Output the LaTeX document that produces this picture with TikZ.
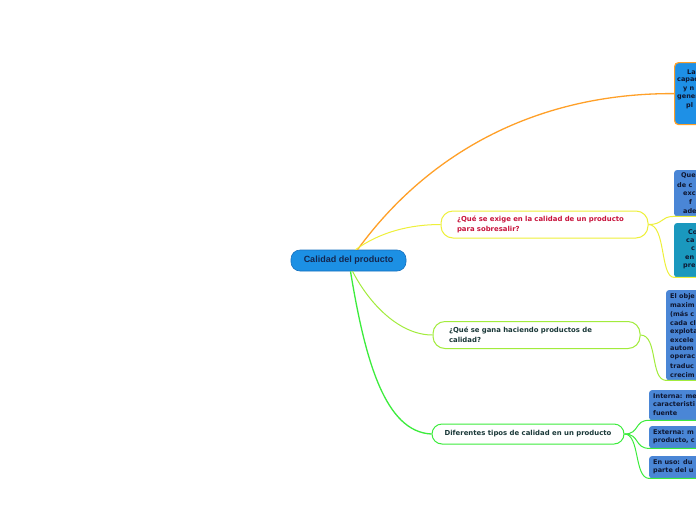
\documentclass[tikz,border=0pt]{standalone}
\usepackage{fontspec}
\setmainfont{DejaVu Sans}
\newfontfamily\arialfont{Liberation Sans}
\usetikzlibrary{calc}
\definecolor{corange}{HTML}{FFA028}
\definecolor{cyellow}{HTML}{EEF03A}
\definecolor{clgreen}{HTML}{A2EC3C}
\definecolor{cgreen}{HTML}{3CEC3C}
\definecolor{cblue}{HTML}{1C90E4}
\definecolor{cblueb}{HTML}{1670BE}
\definecolor{cctext}{HTML}{14264E}
\definecolor{cleafa}{HTML}{1E90E6}
\definecolor{cleafb}{HTML}{4A86D6}
\definecolor{cleafc}{HTML}{1A98BE}
\definecolor{cred}{HTML}{C8143C}
\definecolor{cdark}{HTML}{1A3838}
\definecolor{cleaftext}{HTML}{0E1630}
\begin{document}
\begin{tikzpicture}[x=1pt,y=-1pt,
  branch/.style={draw, line width=1pt, fill=white, rounded corners=12pt, minimum height=27pt, inner sep=0pt, font=\fontsize{6.9}{9.5}\selectfont\bfseries},
  leaf/.style={rectangle, minimum width=60pt, inner sep=0pt, anchor=north west, rounded corners=2.5pt},
  ltext/.style={anchor=west, inner sep=0pt, font=\fontsize{6.5}{8}\selectfont\bfseries, text=cleaftext},
  conn/.style={line width=1pt},
]
\useasboundingbox (0,0) rectangle (696,520);
\clip (0,0) rectangle (696,520);
\fill[white] (0,0) rectangle (696,520);

% central node
\node[fill=cblue, draw=cblueb, line width=0.6pt, rounded corners=9pt, minimum width=115pt, minimum height=21pt, inner sep=0pt, font=\arialfont\fontsize{9}{10}\selectfont\bfseries, text=cctext] (c) at (348.5,260.5) {Calidad del producto};

% branch nodes
\node[branch, draw=cyellow, text=cred, minimum width=207pt, text width=175pt, align=left] (n2) at (544.5,224.5) {¿Qué se exige en la calidad de un producto\\para sobresalir?};
\node[branch, draw=clgreen, text=cdark, minimum width=207pt, text width=175pt, align=left] (n3) at (536.5,335) {¿Qué se gana haciendo productos de\\calidad?};
\node[branch, draw=cgreen, text=cdark, minimum width=192pt, minimum height=20pt, rounded corners=10pt] (n4) at (528,434) {Diferentes tipos de calidad en un producto};

% leaf boxes
\node[leaf, fill=cleafa, draw=corange, line width=1.2pt, rounded corners=4pt, minimum height=62pt] (b1) at (674,62) {};
\node[leaf, fill=cleafb, minimum height=46pt] (b2) at (674,170) {};
\node[leaf, fill=cleafc, minimum height=54pt] (b3) at (674,223) {};
\node[leaf, fill=cleafb, minimum height=90pt] (b4) at (666,290) {};
\node[leaf, fill=cleafb, minimum height=30pt] (b5) at (649,390) {};
\node[leaf, fill=cleafb, minimum height=22pt] (b6) at (649,426) {};
\node[leaf, fill=cleafb, minimum height=22pt] (b7) at (649,456) {};

% leaf texts (clipped by the picture edge, as in the reference)
\node[ltext] (t1a) at (687,72) {La};
\node[ltext] (t1b) at (677,80.5) {capac};
\node[ltext] (t1c) at (683,89) {y n};
\node[ltext] (t1d) at (677,97.5) {gener};
\node[ltext] (t1e) at (686,106) {pl};

\node[ltext] (t2a) at (681,176) {Que};
\node[ltext] (t2b) at (677,185) {de c};
\node[ltext] (t2c) at (683,193.5) {exc};
\node[ltext] (t2d) at (689,202) {f};
\node[ltext] (t2e) at (683,211) {ade};

\node[ltext] (t3a) at (688,232) {Co};
\node[ltext] (t3b) at (686,240.5) {ca};
\node[ltext] (t3c) at (691,249) {c};
\node[ltext] (t3d) at (685,257.5) {en};
\node[ltext] (t3e) at (683,266) {pre};

\node[ltext] (t4a) at (670,296.5) {El obje};
\node[ltext] (t4b) at (670,305.2) {maxim};
\node[ltext] (t4c) at (670,313.9) {(más c};
\node[ltext] (t4d) at (670,322.6) {cada cl};
\node[ltext] (t4e) at (670,331.3) {explota};
\node[ltext] (t4f) at (670,340) {excele};
\node[ltext] (t4g) at (670,348.7) {autom};
\node[ltext] (t4h) at (670,357.4) {operac};
\node[ltext] (t4i) at (670,366.1) {traduc};
\node[ltext] (t4j) at (670,374.8) {crecim};

\node[ltext] (t5a) at (653,396) {Interna: me};
\node[ltext] (t5b) at (653,404.5) {caracteristi};
\node[ltext] (t5c) at (653,413) {fuente};

\node[ltext] (t6a) at (653,432.5) {Externa: m};
\node[ltext] (t6b) at (653,441) {producto, c};

\node[ltext] (t7a) at (653,462.5) {En uso: du};
\node[ltext] (t7b) at (653,471) {parte del u};

% main connectors
\draw[conn, corange, line width=1.3pt] ($(c.north)+(9,0)$) .. controls (430,150) and (540,93) .. (b1.west);
\draw[conn, cyellow] ($(c.north)+(7,0)$) .. controls (380,232) and (410,224.5) .. (n2.west);
\draw[conn, clgreen] ($(c.south)+(4,0)$) .. controls (370,305) and (400,335) .. (n3.west);
\draw[conn, cgreen, line width=1.3pt] ($(c.south)+(2,0)$) .. controls (365,360) and (385,432) .. (n4.west);

% child connectors
\draw[conn, cyellow] (n2.east) .. controls (664,224.5) and (660,216.5) .. (b2.south west) -- (b2.south east);
\draw[conn, cyellow] (n2.east) .. controls (666,224.5) and (660,277) .. (b3.south west) -- (b3.south east);
\draw[conn, clgreen] (n3.east) .. controls (658,335) and (650,380) .. (b4.south west) -- (b4.south east);
\draw[conn, cgreen] (n4.east) .. controls (640,434) and (634,420) .. (b5.south west) -- (b5.south east);
\draw[conn, cgreen] (n4.east) .. controls (640,434) and (634,448) .. (b6.south west) -- (b6.south east);
\draw[conn, cgreen] (n4.east) .. controls (640,434) and (634,478) .. (b7.south west) -- (b7.south east);
\end{tikzpicture}
\end{document}
